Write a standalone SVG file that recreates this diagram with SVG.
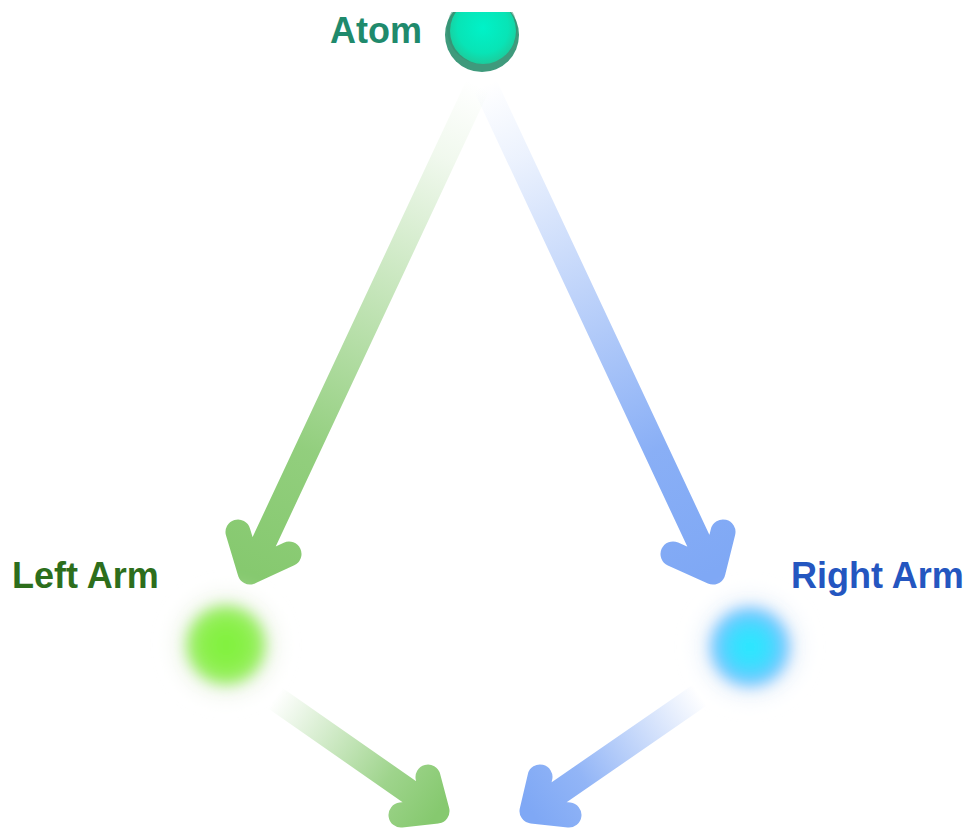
<svg xmlns="http://www.w3.org/2000/svg" width="970" height="828" viewBox="0 0 970 828">
  <style>
    .label { font-family: "Liberation Sans", Arial, sans-serif; font-weight: bold; font-size: 36px; }
    .arrow { fill: none; stroke-width: 25; stroke-linecap: round; stroke-linejoin: round; }
  </style>
  <defs>
    <clipPath id="page">
      <rect x="0" y="12" width="970" height="816"/>
    </clipPath>
    <filter id="soft" x="-50%" y="-50%" width="200%" height="200%">
      <feGaussianBlur stdDeviation="7"/>
    </filter>
    <filter id="halo" x="-50%" y="-50%" width="200%" height="200%">
      <feGaussianBlur stdDeviation="10"/>
    </filter>
    <radialGradient id="atomFill" cx="0.5" cy="0.45" r="0.55">
      <stop offset="0" stop-color="#00f2c8"/>
      <stop offset="0.7" stop-color="#08e4b6"/>
      <stop offset="1" stop-color="#1ccc9c"/>
    </radialGradient>
    <radialGradient id="leftFill" cx="0.5" cy="0.5" r="0.5">
      <stop offset="0" stop-color="#7ef23a"/>
      <stop offset="0.6" stop-color="#8cf04c"/>
      <stop offset="1" stop-color="#a6ee78"/>
    </radialGradient>
    <radialGradient id="rightFill" cx="0.5" cy="0.5" r="0.5">
      <stop offset="0" stop-color="#22ecff"/>
      <stop offset="0.6" stop-color="#45d8ff"/>
      <stop offset="1" stop-color="#8cc0ff"/>
    </radialGradient>
    <linearGradient id="gTopLeft" gradientUnits="userSpaceOnUse" x1="478" y1="85" x2="250" y2="572">
      <stop offset="0" stop-color="#86c96f" stop-opacity="0"/>
      <stop offset="0.15" stop-color="#86c96f" stop-opacity="0.12"/>
      <stop offset="0.75" stop-color="#86c96f" stop-opacity="0.9"/>
      <stop offset="1" stop-color="#86c96f" stop-opacity="1"/>
    </linearGradient>
    <linearGradient id="gTopRight" gradientUnits="userSpaceOnUse" x1="485" y1="85" x2="713" y2="572">
      <stop offset="0" stop-color="#7fa8f5" stop-opacity="0"/>
      <stop offset="0.15" stop-color="#7fa8f5" stop-opacity="0.15"/>
      <stop offset="0.75" stop-color="#7fa8f5" stop-opacity="0.92"/>
      <stop offset="1" stop-color="#7fa8f5" stop-opacity="1"/>
    </linearGradient>
    <linearGradient id="gBotLeft" gradientUnits="userSpaceOnUse" x1="275" y1="698" x2="438" y2="812">
      <stop offset="0" stop-color="#86c96f" stop-opacity="0"/>
      <stop offset="0.7" stop-color="#86c96f" stop-opacity="0.8"/>
      <stop offset="1" stop-color="#86c96f" stop-opacity="1"/>
    </linearGradient>
    <linearGradient id="gBotRight" gradientUnits="userSpaceOnUse" x1="700" y1="695" x2="531" y2="812">
      <stop offset="0" stop-color="#7fa8f5" stop-opacity="0"/>
      <stop offset="0.7" stop-color="#7fa8f5" stop-opacity="0.85"/>
      <stop offset="1" stop-color="#7fa8f5" stop-opacity="1"/>
    </linearGradient>
  </defs>

  <rect x="0" y="0" width="970" height="828" fill="#ffffff"/>

  <g clip-path="url(#page)">
    <!-- connectors -->
    <g id="connectors">
      <path class="arrow" stroke="url(#gTopLeft)" d="M478,85 L250,572 M238,532 L250,572 L289,554"/>
      <path class="arrow" stroke="url(#gTopRight)" d="M485,85 L713,572 M673,554 L713,572 L723,532"/>
      <path class="arrow" stroke="url(#gBotLeft)" d="M275,698 L437,811 M401,815 L437,811 L428,777"/>
      <path class="arrow" stroke="url(#gBotRight)" d="M700,695 L532,811 M569,815 L532,811 L540,777"/>
    </g>

    <!-- source node -->
    <g id="atom">
      <circle cx="482" cy="35" r="37" fill="#3f9a7c"/>
      <circle cx="482" cy="29" r="35" fill="#2e8f70" opacity="0.5"/>
      <circle cx="483" cy="31" r="33" fill="url(#atomFill)"/>
      <text class="label" x="330" y="43" fill="#1f8a6c">Atom</text>
    </g>

    <!-- left node -->
    <g id="left-arm">
      <circle cx="226" cy="645" r="52" fill="#f2f6ee" filter="url(#halo)"/>
      <circle cx="226" cy="645" r="40" fill="url(#leftFill)" filter="url(#soft)"/>
      <text class="label" x="12" y="588" fill="#2d6e1c">Left Arm</text>
    </g>

    <!-- right node -->
    <g id="right-arm">
      <circle cx="750" cy="647" r="52" fill="#eef4fb" filter="url(#halo)"/>
      <circle cx="750" cy="647" r="40" fill="url(#rightFill)" filter="url(#soft)"/>
      <text class="label" x="791" y="588" fill="#2456c0">Right Arm</text>
    </g>
  </g>
</svg>
